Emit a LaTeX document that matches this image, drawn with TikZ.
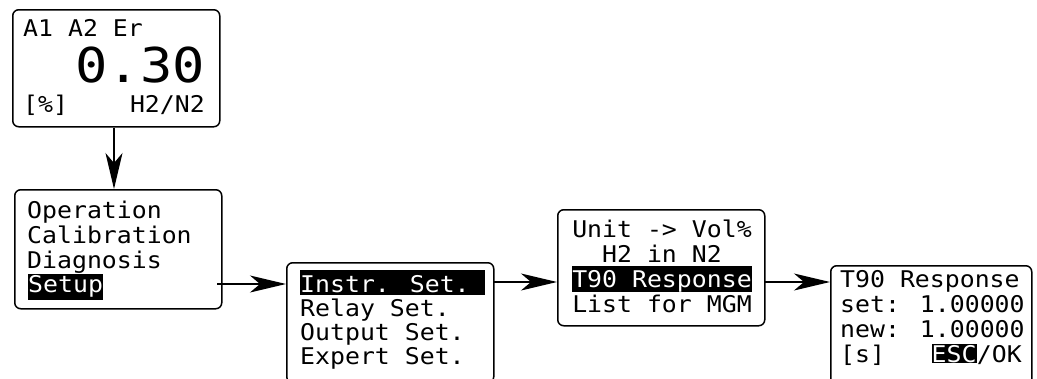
\documentclass[tikz,border=0pt]{standalone}
\usepackage{fontspec}
\usetikzlibrary{arrows.meta}
% LCD-like monospaced faces, widened to the display's character cell
\newfontfamily\lcdfont[FakeStretch=1.08]{DejaVu Sans Mono}
\newfontfamily\lcdbigfont[FakeStretch=1.12]{DejaVu Sans Mono}
\begin{document}
\begin{tikzpicture}[x=1pt,y=-1pt,
  panel/.style={draw, line width=1.5pt, rounded corners=6pt, anchor=north west,
                inner sep=0pt, minimum width=207pt, minimum height=117pt},
  lcd/.style={font=\lcdfont\fontsize{23}{26}\selectfont, inner sep=0pt, anchor=base west},
  lcdbig/.style={font=\lcdbigfont\fontsize{48}{52}\selectfont, inner sep=0pt, anchor=base east},
  hl/.style={fill=black, text=white},
  arr/.style={line width=1.3pt, -{Stealth[length=36pt,width=17pt,inset=10pt]}}]
\path[use as bounding box] (0,0) rectangle (1037,378);
\begin{scope}
\clip (0,0) rectangle (1037,378);

% display panels
\node[panel] (b1) at (12,9) {};
\node[panel, minimum height=119pt] (b2) at (14,189) {};
\node[panel, minimum height=120pt] (b3) at (286,262) {};
\node[panel, minimum height=116pt] (b4) at (557,209) {};
\node[panel, minimum width=201pt, minimum height=120pt] (b5) at (830,265) {};

% measurement display
\node[lcd] (m1) at (23,36) {A1 A2 Er};
\node[lcdbig] (m2) at (205,82) {0.30};
\node[lcd] (m3) at (23,112) {[\%]};
\node[lcd, anchor=base east] (m4) at (205,112) {H2/N2};

% main menu
\node[lcd] (p1) at (27,218) {Operation};
\node[lcd] (p2) at (27,243) {Calibration};
\node[lcd] (p3) at (27,268) {Diagnosis};
\node[lcd, hl, text height=18pt, text depth=8pt] (p4) at (28,292) {Setup};

% setup menu
\node[lcd, hl, text height=22pt, text depth=3pt] (s1) at (300,292) {Instr. Set.\phantom{0}};
\node[lcd] (s2) at (300,316) {Relay Set.};
\node[lcd] (s3) at (300,340) {Output Set.};
\node[lcd] (s4) at (300,364) {Expert Set.};

% instrument settings
\node[lcd, anchor=base] (i1) at (662,237) {Unit -> Vol\%};
\node[lcd, anchor=base] (i2) at (662,262) {H2 in N2};
\node[lcd, anchor=base, hl, text height=21pt, text depth=5pt] (i3) at (662,287) {T90 Response};
\node[lcd, anchor=base] (i4) at (662,312) {List for MGM};

% T90 entry
\node[lcd] (t1) at (840,287) {T90 Response};
\node[lcd] (t2) at (840,312) {set: 1.00000};
\node[lcd] (t3) at (840,337) {new: 1.00000};
\node[lcd] (t4) at (840,362) {[s]};
\node[lcd, anchor=base east] (t6) at (1022,362) {/OK};
\node[lcd, anchor=base east, hl, text height=18pt, text depth=1pt] (t5) at (t6.base west) {ESC};

% navigation arrows
\coordinate (a2) at (217,284);
\coordinate (a3) at (493,282);
\coordinate (a4) at (764,282);
\draw[arr] (b1.south -| 114,0) -- (b2.north -| 114,0);
\draw[arr] (a2) -- (a2 -| b3.west);
\draw[arr] (a3) -- (a3 -| b4.west);
\draw[arr] (a4) -- (a4 -| b5.west);
\end{scope}
\end{tikzpicture}
\end{document}
